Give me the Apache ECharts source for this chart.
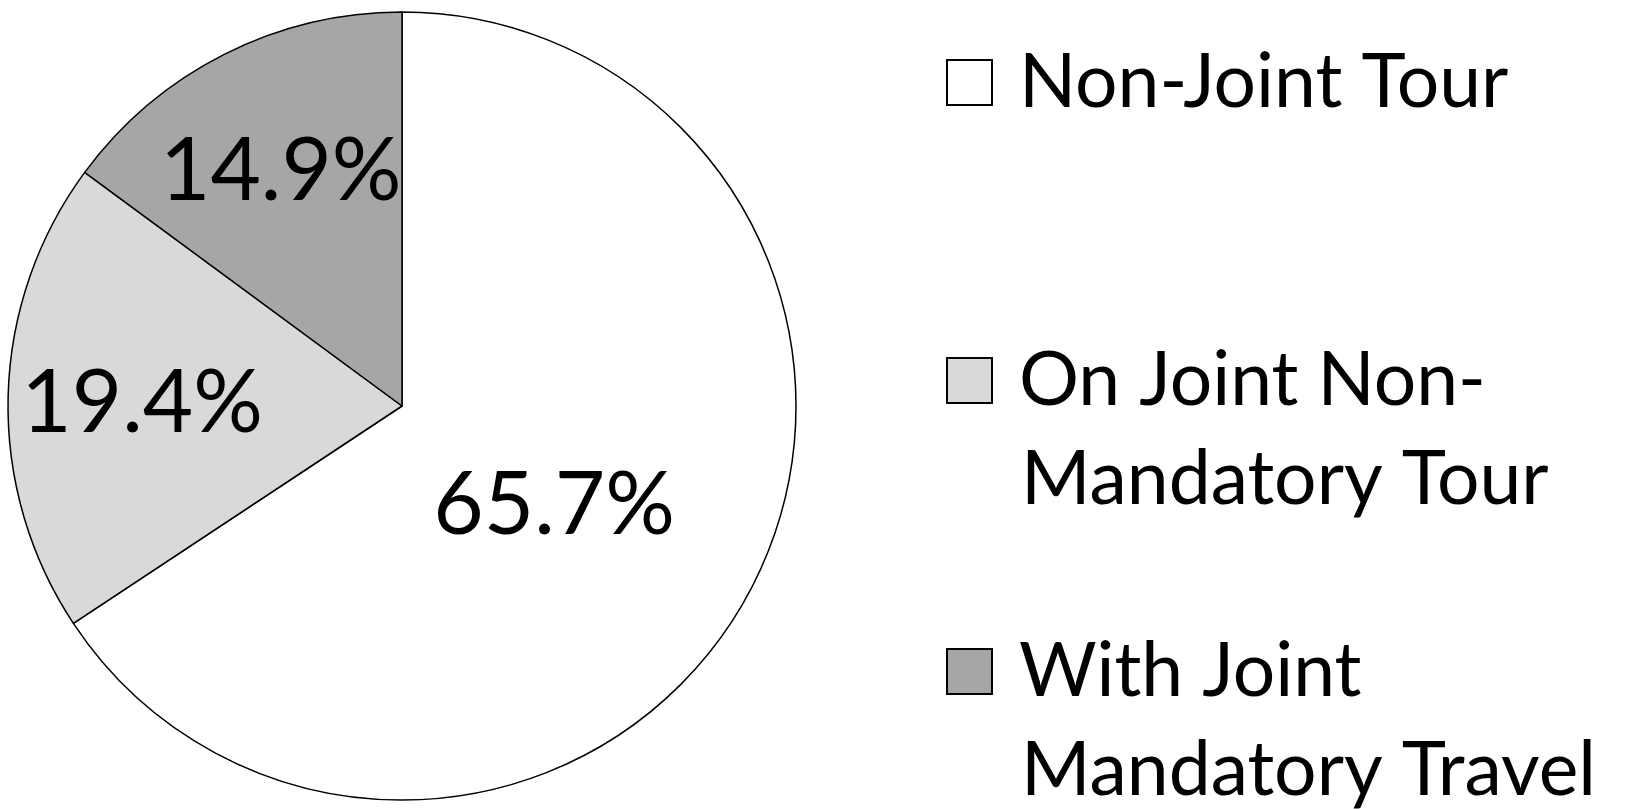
<!DOCTYPE html>
<html>
<head>
<meta charset="utf-8">
<script src="https://cdn.jsdelivr.net/npm/echarts@6/dist/echarts.min.js"></script>
<style>
  html, body { margin: 0; padding: 0; background: #fff; }
  #chart { width: 1625px; height: 809px; }
</style>
</head>
<body>
<div id="chart"></div>
<script>
// categories and shares (percent)
const categories = ['Non-Joint Tour', 'On Joint Non-Mandatory Tour', 'With Joint Mandatory Travel'];
const legendLines = [['Non-Joint Tour'], ['On Joint Non-', 'Mandatory Tour'], ['With Joint', 'Mandatory Travel']];
const shares = [65.7, 19.4, 14.9];
const colors = ['#FFFFFF', '#D9D9D9', '#A6A6A6'];

const FONT = 'Lato, "Open Sans", sans-serif';
// nudge labels outward like the original layout
const labelOffsets = [[-24, 5], [-60, 3], [-31, -56]];
const legendTops = [33, 331, 622];

const chart = echarts.init(document.getElementById('chart'), null, { renderer: 'canvas' });

const legends = categories.map((name, i) => {
  const rich = {
    box: {
      width: 43, height: 43,
      backgroundColor: colors[i],
      borderColor: '#000', borderWidth: 2
    },
    g: { width: 28 },
    ind: { width: 73 },
    t: { fontSize: 75, fontFamily: FONT, color: '#000', lineHeight: 99 }
  };
  return {
    show: true,
    data: [name],
    orient: 'vertical',
    left: 943,
    top: legendTops[i],
    padding: 0,
    icon: 'none',
    itemWidth: 0,
    itemHeight: 0,
    selectedMode: false,
    textStyle: { rich: rich, lineHeight: 99 },
    formatter: function () {
      const lines = legendLines[i];
      let s = '{box|}{g|}{t|' + lines[0] + '}';
      for (let k = 1; k < lines.length; k++) {
        s += '\n{ind|}{t|' + lines[k] + '}';
      }
      return s;
    }
  };
});

const option = {
  animation: false,
  backgroundColor: '#fff',
  legend: legends,
  series: [{
    type: 'pie',
    center: [402, 406],
    radius: 394,
    startAngle: 90,
    clockwise: true,
    avoidLabelOverlap: false,
    emphasis: { disabled: true },
    itemStyle: { borderColor: '#000', borderWidth: 1.5 },
    label: {
      show: true,
      position: 'inside',
      fontFamily: FONT,
      fontSize: 87,
      color: '#000',
      formatter: p => p.value.toFixed(1) + '%'
    },
    labelLine: { show: false },
    data: categories.map((name, i) => ({
      name: name,
      value: shares[i],
      itemStyle: { color: colors[i] },
      label: { offset: labelOffsets[i] }
    }))
  }]
};

chart.setOption(option);
</script>
</body>
</html>
